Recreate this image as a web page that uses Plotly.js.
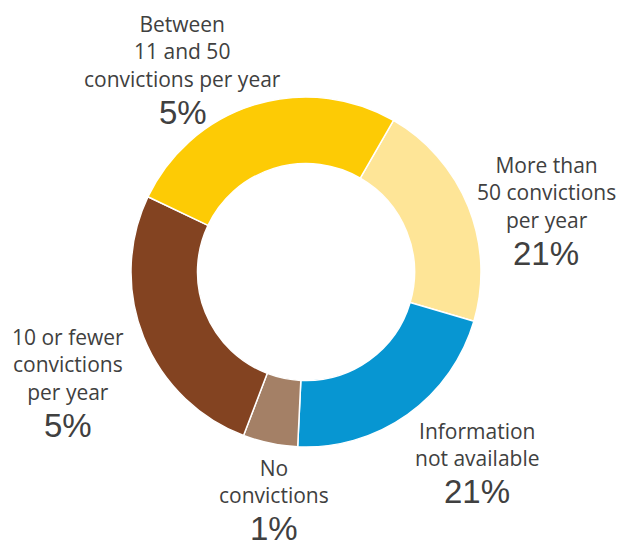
<!DOCTYPE html>
<html>
<head>
<meta charset="utf-8">
<script src="https://cdn.plot.ly/plotly-3.0.1.min.js"></script>
<style>
  html, body { margin: 0; padding: 0; background: #ffffff; }
  #chart { width: 621px; height: 547px; }
</style>
</head>
<body>
<div id="chart"></div>
<script>
// Categories in clockwise order starting at the top-right slice
const categories = [
  "More than 50 convictions per year",
  "Information not available",
  "No convictions",
  "10 or fewer convictions per year",
  "Between 11 and 50 convictions per year"
];
// Slice sizes (share of the ring)
const sliceValues = [21, 21, 5, 26, 26];
// Label text as printed in the chart
const labelLines = [
  "More than<br>50 convictions<br>per year",
  "Information<br>not available",
  "No<br>convictions",
  "10 or fewer<br>convictions<br>per year",
  "Between<br>11 and 50<br>convictions per year"
];
const printedPercents = ["21%", "21%", "1%", "5%", "5%"];

// Styling
const colors = ["#FEE597", "#0796D2", "#A48066", "#834321", "#FDCB05"];
const W = 621, H = 547;
// label block centres and percent centres, in pixels
const labelPos = [[546, 193], [477, 444], [274, 481], [68, 364], [183, 52]];
const pctPos = [[546, 254], [477, 491.5], [274, 528], [68, 425], [183, 113]];

const annotations = [];
for (let i = 0; i < categories.length; i++) {
  annotations.push({
    xref: "paper", yref: "paper",
    x: labelPos[i][0] / W, y: 1 - labelPos[i][1] / H,
    xanchor: "center", yanchor: "middle",
    text: labelLines[i], showarrow: false, align: "center",
    borderpad: 0,
    font: { family: "Open Sans, sans-serif", size: 21, color: "#404040" }
  });
  annotations.push({
    xref: "paper", yref: "paper",
    x: pctPos[i][0] / W, y: 1 - pctPos[i][1] / H,
    xanchor: "center", yanchor: "middle",
    text: printedPercents[i], showarrow: false,
    borderpad: 0,
    font: { family: "Liberation Sans, Arial, sans-serif", size: 33, color: "#404040" }
  });
}

const trace = {
  type: "pie",
  labels: categories,
  values: sliceValues,
  sort: false,
  direction: "clockwise",
  rotation: 30,
  hole: 0.62,
  textinfo: "none",
  hoverinfo: "label+percent",
  marker: { colors: colors, line: { color: "#ffffff", width: 1.5 } },
  domain: { x: [131 / W, 481 / W], y: [(H - 447) / H, (H - 97) / H] },
  showlegend: false
};

const layout = {
  width: W, height: H,
  margin: { l: 0, r: 0, t: 0, b: 0 },
  paper_bgcolor: "#ffffff",
  plot_bgcolor: "#ffffff",
  showlegend: false,
  annotations: annotations
};

Plotly.newPlot("chart", [trace], layout, { displayModeBar: false, staticPlot: true });
</script>
</body>
</html>
